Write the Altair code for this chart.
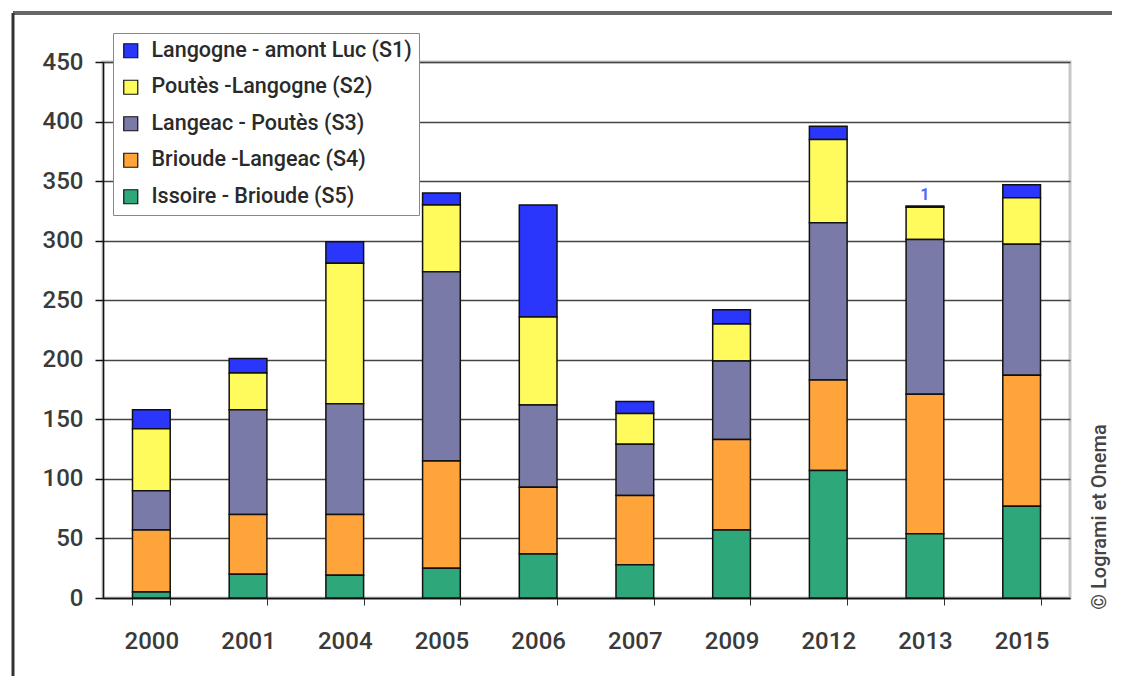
import altair as alt
import pandas as pd

years = ["2000", "2001", "2004", "2005", "2006", "2007", "2009", "2012", "2013", "2015"]
series = [
    "Langogne - amont Luc (S1)",
    "Poutès -Langogne (S2)",
    "Langeac - Poutès (S3)",
    "Brioude -Langeac (S4)",
    "Issoire - Brioude (S5)",
]
s1 = [16, 12, 18, 10, 94, 10, 12, 11, 1, 11]
s2 = [52, 31, 118, 56, 74, 26, 31, 70, 27, 39]
s3 = [33, 88, 93, 159, 69, 43, 66, 132, 130, 110]
s4 = [52, 50, 51, 90, 56, 58, 76, 76, 117, 110]
s5 = [5, 20, 19, 25, 37, 28, 57, 107, 54, 77]
colors = ["#2a36fb", "#fffb5c", "#7a7aa8", "#ffa43b", "#2ea77b"]
y_ticks = [0, 50, 100, 150, 200, 250, 300, 350, 400, 450]

annot_year = "2013"
annot_text = "1"
credit = "© Logrami et Onema"

values = [s1, s2, s3, s4, s5]
rows = []
for si, (name, vals) in enumerate(zip(series, values)):
    for y, v in zip(years, vals):
        rows.append({"year": y, "series": name, "value": v, "rank": 5 - si})
df = pd.DataFrame(rows)

totals = {y: sum(v[i] for v in values) for i, y in enumerate(years)}
annot_df = pd.DataFrame([{"year": annot_year, "total": totals[annot_year], "text": annot_text}])
credit_df = pd.DataFrame([{"text": credit}])
frame_df = pd.DataFrame([{"k": 0}])

W, H = 967, 536
FONT = "Roboto"

xscale = alt.Scale(domain=years, paddingInner=0.61, paddingOuter=0.305)
yscale = alt.Scale(domain=[0, 450], nice=False)

bars = alt.Chart(df).mark_bar(stroke="#111", strokeWidth=1.5).encode(
    x=alt.X("year:N", scale=xscale, sort=years,
            axis=alt.Axis(title=None, labelAngle=0, tickBand="extent", tickSize=7,
                          tickColor="#333", domainColor="#111", domainWidth=1.5,
                          labelPadding=24, labelFontSize=24, labelFont=FONT,
                          labelFontWeight=500, labelColor="#3a3a3a", grid=False)),
    y=alt.Y("value:Q", stack="zero", scale=yscale,
            axis=alt.Axis(title=None, values=y_ticks, grid=True, gridColor="#444",
                          gridWidth=1.5, domainColor="#111", domainWidth=1.5,
                          tickColor="#111", tickSize=8, tickWidth=1.5,
                          labelPadding=12, labelFontSize=24, labelFont=FONT,
                          labelFontWeight=500, labelColor="#3a3a3a")),
    color=alt.Color("series:N", scale=alt.Scale(domain=series, range=colors),
                    legend=alt.Legend(orient="none", legendX=10, legendY=-29, title=None,
                                      symbolType="square", symbolSize=196,
                                      symbolStrokeColor="#111", symbolStrokeWidth=1.2,
                                      labelFontSize=21.5, labelFont=FONT, labelColor="#2a2a2a",
                                      labelFontWeight=500,
                                      rowPadding=13.5, padding=7, labelOffset=10,
                                      strokeColor="#888", fillColor="white",
                                      labelLimit=0)),
    order=alt.Order("rank:Q", sort="ascending"),
)

annot = alt.Chart(annot_df).mark_text(
    baseline="bottom", dy=-3, fontSize=16, fontWeight="bold", color="#5566ff", font=FONT
).encode(x=alt.X("year:N", scale=xscale, sort=years), y=alt.Y("total:Q", scale=yscale), text="text:N")

credit_txt = alt.Chart(credit_df).mark_text(
    angle=270, fontSize=20, font=FONT, color="#444", fontWeight=500,
    baseline="middle", align="center"
).encode(x=alt.value(997), y=alt.value(455), text="text:N")

top_line = alt.Chart(frame_df).mark_rule(color="#666", strokeWidth=4).encode(
    x=alt.value(-90), x2=alt.value(1015), y=alt.value(-49))
left_line = alt.Chart(frame_df).mark_rule(color="#333", strokeWidth=3).encode(
    x=alt.value(-90), y=alt.value(-49), y2=alt.value(H + 90))

chart = alt.layer(bars, annot, credit_txt, top_line, left_line).properties(
    width=W, height=H, autosize="none",
    padding={"left": 95, "top": 54, "right": 42, "bottom": 78},
    background="white",
).configure_view(stroke="#c8c8c8", strokeWidth=3)

chart.save("out.html", embed_options={"renderer": "svg", "actions": False})
